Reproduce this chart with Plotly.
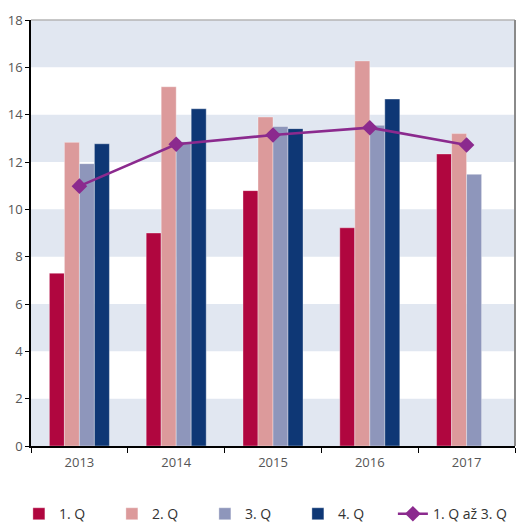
import plotly.graph_objects as go

years = ["2013", "2014", "2015", "2016", "2017"]
q1 = [7.30, 9.00, 10.79, 9.22, 12.34]
q2 = [12.83, 15.18, 13.90, 16.27, 13.20]
q3 = [11.93, 12.86, 13.50, 13.55, 11.48]
q4 = [12.77, 14.25, 13.41, 14.66, None]
q1_to_q3 = [10.98, 12.75, 13.14, 13.45, 12.72]

bar_series = [
    ("1. Q", q1, "#b0063f"),
    ("2. Q", q2, "#dc9a9b"),
    ("3. Q", q3, "#8e96bb"),
    ("4. Q", q4, "#0e3775"),
]

fig = go.Figure()
for name, vals, color in bar_series:
    fig.add_trace(go.Bar(
        x=years, y=vals, name=name, legend="legend",
        marker=dict(color=color, line=dict(color="rgba(255,255,255,0.45)", width=0.8)),
    ))

fig.add_trace(go.Scatter(
    x=years, y=q1_to_q3, name="1. Q až 3. Q", mode="lines+markers", legend="legend2",
    line=dict(color="#8b2a8e", width=2.6),
    marker=dict(symbol="diamond", size=12, color="#8b2a8e"),
))

# alternating horizontal bands
shapes = []
for lo in range(0, 18, 4):
    shapes.append(dict(type="rect", xref="paper", yref="y", x0=0, x1=1, y0=lo, y1=lo + 2,
                       fillcolor="#e1e7f1", line=dict(width=0), layer="below"))
# top and right frame lines
shapes.append(dict(type="line", xref="paper", yref="paper", x0=0, x1=1, y0=1, y1=1,
                   line=dict(color="#b5b5b5", width=1.5)))
shapes.append(dict(type="line", xref="paper", yref="paper", x0=1, x1=1, y0=0, y1=1,
                   line=dict(color="#8a8a8a", width=2)))

legend_font = dict(family="Open Sans", size=14, color="#333333")

fig.update_layout(
    width=519, height=522,
    margin=dict(l=31, r=4, t=20, b=76, autoexpand=False),
    paper_bgcolor="white", plot_bgcolor="white",
    barmode="group", bargap=0.38, bargroupgap=0,
    font=dict(family="Open Sans", size=13, color="#555555"),
    shapes=shapes,
    showlegend=True,
    legend=dict(orientation="h", x=-0.025, xanchor="left", y=-0.16, yanchor="middle",
                entrywidth=48, entrywidthmode="pixels", itemwidth=30,
                font=legend_font, traceorder="normal"),
    legend2=dict(orientation="h", xref="container", x=0.757, xanchor="left",
                 y=-0.16, yanchor="middle", itemwidth=30, font=legend_font),
)
fig.update_xaxes(
    showgrid=False, showline=True, linecolor="black", linewidth=1.5,
    ticks="outside", tickson="boundaries", ticklen=5, tickcolor="black",
    ticklabelstandoff=4,
    tickfont=dict(size=13, color="#555555"),
)
fig.update_yaxes(
    range=[0, 18], dtick=2, showgrid=False, zeroline=False,
    showline=True, linecolor="black", linewidth=1.5,
    ticks="outside", ticklen=4, tickcolor="black",
    tickfont=dict(size=13, color="#555555"),
)

fig.write_html("out.html")
